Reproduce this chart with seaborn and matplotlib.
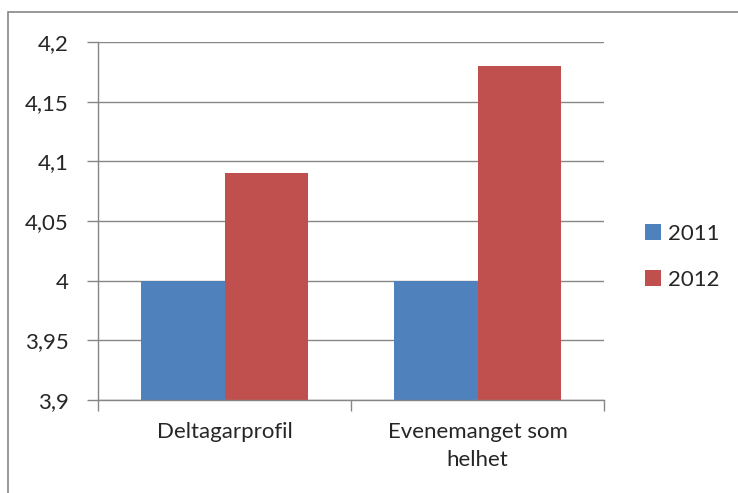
import matplotlib
matplotlib.use("Agg")
import matplotlib.pyplot as plt
import seaborn as sns
import pandas as pd
from matplotlib.patches import Rectangle
from matplotlib.ticker import FixedLocator

categories = ["Deltagarprofil", "Evenemanget som\nhelhet"]
years = ["2011", "2012"]
values_2011 = [4.0, 4.0]
values_2012 = [4.09, 4.18]
ytick_values = [3.9, 3.95, 4.0, 4.05, 4.1, 4.15, 4.2]
ytick_labels = ["3,9", "3,95", "4", "4,05", "4,1", "4,15", "4,2"]

df = pd.DataFrame({
    "category": categories * 2,
    "year": [years[0]] * 2 + [years[1]] * 2,
    "value": values_2011 + values_2012,
})

sns.set_style("white")
plt.rcParams["font.family"] = ["Lato", "DejaVu Sans"]
FS = 16
GRID = "#868686"

fig = plt.figure(figsize=(7.38, 4.93), dpi=100)
ax = fig.add_axes([98/738, 1-400/493, (604-98)/738, (400-42)/493])

sns.barplot(data=df, x="category", y="value", hue="year",
            palette=["#4F81BD", "#C0504D"], width=0.664, gap=0,
            order=categories, hue_order=years, ax=ax, saturation=1,
            edgecolor="none", linewidth=0, legend=True)

ax.set_ylim(3.9, 4.2)
ax.set_xlim(-0.5, 1.5)
ax.set_yticks(ytick_values)
ax.set_yticklabels(ytick_labels, fontsize=FS)
ax.yaxis.grid(True, color=GRID, linewidth=1)
ax.set_axisbelow(True)
ax.tick_params(axis="y", length=8, width=1, color=GRID, pad=13, left=True)
ax.tick_params(axis="x", which="major", length=0, pad=16, labelsize=FS)
for lbl in ax.get_xticklabels():
    lbl.set_linespacing(1.5)
ax.xaxis.set_minor_locator(FixedLocator([-0.5, 0.5, 1.5]))
ax.tick_params(axis="x", which="minor", length=8, width=1, color=GRID, bottom=True)
ax.set_xlabel("")
ax.set_ylabel("")
for s in ["top", "right"]:
    ax.spines[s].set_visible(False)
for s in ["left", "bottom"]:
    ax.spines[s].set_visible(True)
    ax.spines[s].set_color(GRID)
    ax.spines[s].set_linewidth(1)

handles, labels = ax.get_legend_handles_labels()
ax.legend_.remove()
fig.legend(handles, labels, loc="upper left",
           bbox_to_anchor=(645/738, 1-224/493), frameon=False, fontsize=FS,
           handlelength=0.72, handleheight=0.72, handletextpad=0.3,
           labelspacing=1.15, borderaxespad=0, borderpad=0)

fig.patches.append(Rectangle((8/738, -0.1), 1.2, 0.1 + 1 - 12/493,
                             transform=fig.transFigure, fill=False,
                             edgecolor=GRID, linewidth=1.2))

fig.savefig("out.png", dpi=100)
